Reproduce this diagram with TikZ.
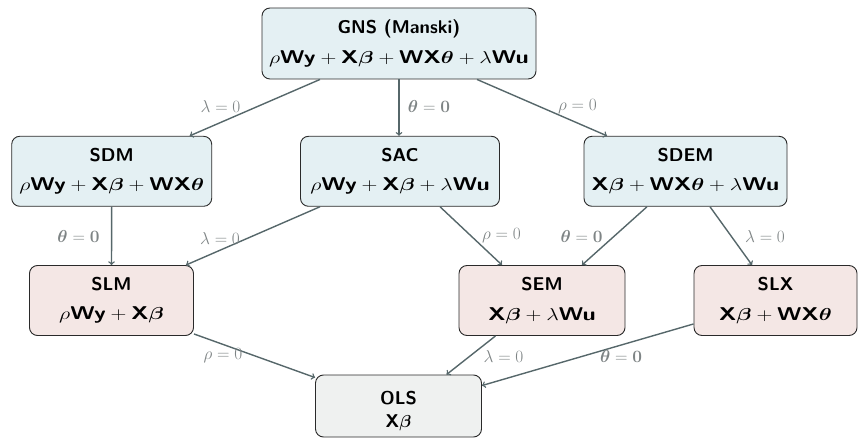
\documentclass[tikz,border=0pt]{standalone}
\usepackage{amsmath}
\usepackage{bm}
\usepackage{graphicx}
\usetikzlibrary{calc}
\definecolor{edgec}{HTML}{56676A}
\definecolor{lblc}{HTML}{7E8485}
\definecolor{bluef}{HTML}{E4F0F3}
\definecolor{pinkf}{HTML}{F4E7E5}
\definecolor{grayf}{HTML}{EFF1F0}
\definecolor{borderc}{HTML}{2A2A2A}
\newcommand\sfb[1]{\text{\sffamily\bfseries #1}}
\newcommand\fml[1]{\scalebox{1.27}[1]{$#1$}}
\tikzset{
  box/.style={draw=borderc, line width=0.9pt, rounded corners=8pt, align=center,
    inner sep=1pt, minimum height=70pt, font=\sffamily\bfseries\fontsize{18.5}{21}\selectfont},
  bluebox/.style={box, fill=bluef},
  pinkbox/.style={box, fill=pinkf},
  graybox/.style={box, fill=grayf},
  conn/.style={draw=edgec, line width=1.4pt, ->},
  lbl/.style={text=lblc, inner sep=0pt, font=\fontsize{18}{21}\selectfont}
}
\begin{document}
\begin{tikzpicture}[x=1pt,y=-1pt]
\useasboundingbox (0,0) rectangle (858,438);
% nodes
\node[bluebox, minimum width=274pt, minimum height=71pt] (gns) at (399,43.5)
  {GNS (Manski)\\[8.5pt] \fml{\rho\sfb{Wy}+\sfb{X}\bm{\beta}+\sfb{WX}\bm{\theta}+\lambda\sfb{Wu}}};
\node[bluebox, minimum width=200pt] (sdm) at (111.7,171.3)
  {SDM\\[8.5pt] \fml{\rho\sfb{Wy}+\sfb{X}\bm{\beta}+\sfb{WX}\bm{\theta}}};
\node[bluebox, minimum width=199pt] (sac) at (400,171.3)
  {SAC\\[8.5pt] \fml{\rho\sfb{Wy}+\sfb{X}\bm{\beta}+\lambda\sfb{Wu}}};
\node[bluebox, minimum width=203pt] (sdem) at (685.5,171.3)
  {SDEM\\[8.5pt] \fml{\sfb{X}\bm{\beta}+\sfb{WX}\bm{\theta}+\lambda\sfb{Wu}}};
\node[pinkbox, minimum width=164pt] (slm) at (111.5,300.5)
  {SLM\\[8.5pt] \fml{\rho\sfb{Wy}+\sfb{X}\bm{\beta}}};
\node[pinkbox, minimum width=166pt] (sem) at (542,300.5)
  {SEM\\[8.5pt] \fml{\sfb{X}\bm{\beta}+\lambda\sfb{Wu}}};
\node[pinkbox, minimum width=163pt] (slx) at (775.5,300.5)
  {SLX\\[8.5pt] \fml{\sfb{X}\bm{\beta}+\sfb{WX}\bm{\theta}}};
\node[graybox, minimum width=166pt, minimum height=62pt] (ols) at (398.5,406)
  {\rule{0pt}{24pt}OLS\\[2pt] $\sfb{X}\bm{\beta}$};
% connectors
\draw[conn] ($(gns.south)+(-79,0)$) -- ($(sdm.north)+(78,0)$);
\draw[conn] (gns.south) -- (gns.south |- sac.north);
\draw[conn] ($(gns.south)+(78,0)$) -- ($(sdem.north)+(-78.5,0)$);
\draw[conn] (sdm.south) -- (slm.north);
\draw[conn] ($(sac.south)+(-80,0)$) -- ($(slm.north east)+(-8,0)$);
\draw[conn] ($(sac.south)+(40,0)$) -- ($(sem.north)+(-40,0)$);
\draw[conn] ($(sdem.south)+(-38.5,0)$) -- ($(sem.north)+(40,0)$);
\draw[conn] ($(sdem.south)+(24.5,0)$) -- ($(slx.north)+(-23.5,0)$);
\draw[conn] ($(slm.south east)+(0,-2)$) -- ($(ols.north west)+(0,3)$);
\draw[conn] ($(sem.south)+(-46.5,0)$) -- ($(ols.north)+(48,0)$);
\draw[conn] ($(slx.south west)+(0,-12)$) -- ($(ols.north east)+(0,11)$);
% labels
\node[lbl] (l1) at (220.5,107) {$\lambda=0$};
\node[lbl] (l2) at (429,107) {$\bm{\theta}=\mathbf{0}$};
\node[lbl] (l3) at (577.5,107) {$\rho=0$};
\node[lbl] (l4) at (78.5,236) {$\bm{\theta}=\mathbf{0}$};
\node[lbl] (l5) at (220,238) {$\lambda=0$};
\node[lbl] (l6) at (501.5,236) {$\rho=0$};
\node[lbl] (l7) at (581.5,236) {$\bm{\theta}=\mathbf{0}$};
\node[lbl] (l8) at (765,236) {$\lambda=0$};
\node[lbl] (l9) at (223,356) {$\rho=0$};
\node[lbl] (l10) at (503.5,356) {$\lambda=0$};
\node[lbl] (l11) at (621,356) {$\bm{\theta}=\mathbf{0}$};
\end{tikzpicture}
\end{document}
